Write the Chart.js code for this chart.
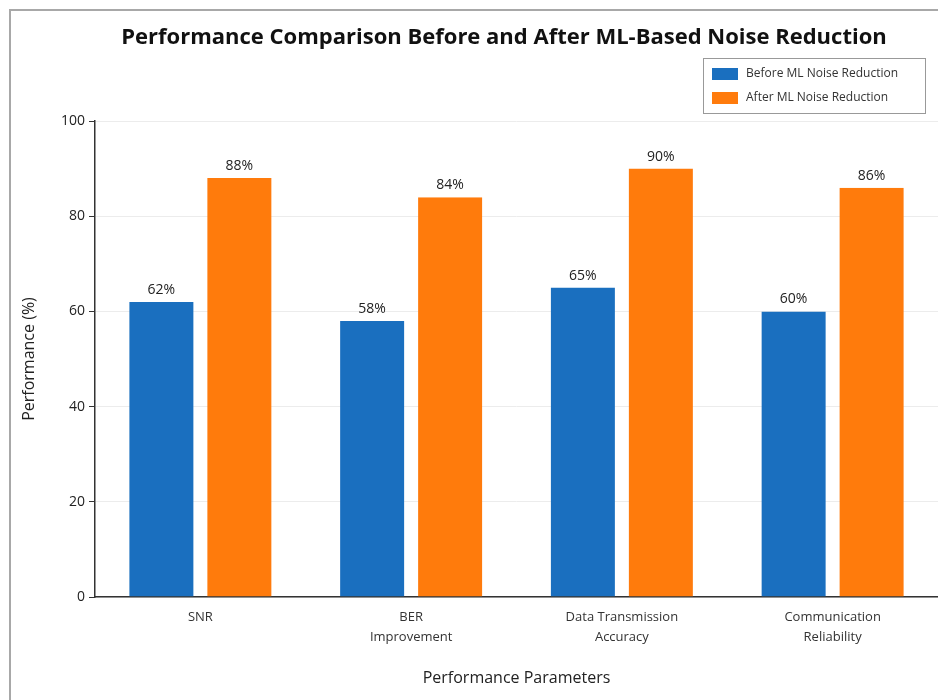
<!DOCTYPE html>
<html>
<head>
<meta charset="utf-8">
<script src="https://cdn.jsdelivr.net/npm/chart.js@4.4.1/dist/chart.umd.min.js"></script>
<style>
  html, body { margin: 0; padding: 0; background: #fff; }
  #wrap { position: relative; width: 938px; height: 700px; }
</style>
</head>
<body>
<div id="wrap"><canvas id="bar-chart" width="938" height="700"></canvas></div>
<script>
const categories = [
    ['SNR'],
    ['BER', 'Improvement'],
    ['Data Transmission', 'Accuracy'],
    ['Communication', 'Reliability']
];
const beforeValues = [62, 58, 65, 60];
const afterValues = [88, 84, 90, 86];
const yTicks = [0, 20, 40, 60, 80, 100];
const chartTitle = 'Performance Comparison Before and After ML-Based Noise Reduction';

const FONT = "'Open Sans', 'Noto Sans', sans-serif";

// frame line, title, value labels, legend box
const decorPlugin = {
    id: 'decor',
    beforeDraw(chart) {
        const ctx = chart.ctx;
        ctx.save();
        ctx.strokeStyle = '#a8a8a8';
        ctx.lineWidth = 2;
        ctx.strokeRect(10, 10, 1000, 1000);
        ctx.font = 'bold 22px ' + FONT;
        ctx.fillStyle = '#111';
        ctx.textAlign = 'center';
        ctx.textBaseline = 'middle';
        ctx.fillText(chartTitle, 504, 38);
        ctx.restore();
    },
    afterDatasetsDraw(chart) {
        const ctx = chart.ctx;
        ctx.save();
        ctx.font = '14px ' + FONT;
        ctx.fillStyle = '#222';
        ctx.textAlign = 'center';
        ctx.textBaseline = 'bottom';
        chart.data.datasets.forEach((ds, i) => {
            chart.getDatasetMeta(i).data.forEach((bar, j) => {
                ctx.fillText(ds.data[j] + '%', bar.x, bar.y - 5);
            });
        });
        ctx.restore();
    },
    afterDraw(chart) {
        const ctx = chart.ctx;
        const x = 703, y = 58, w = 222, h = 55;
        ctx.save();
        ctx.fillStyle = '#fff';
        ctx.fillRect(x, y, w, h);
        ctx.strokeStyle = '#999';
        ctx.lineWidth = 1;
        ctx.strokeRect(x + 0.5, y + 0.5, w, h);
        ctx.font = '12px ' + FONT;
        ctx.textBaseline = 'middle';
        ctx.textAlign = 'left';
        chart.data.datasets.forEach((ds, i) => {
            const ry = y + 16 + i * 24;
            ctx.fillStyle = ds.backgroundColor;
            ctx.fillRect(x + 9, ry - 6, 26, 12);
            ctx.fillStyle = '#333';
            ctx.fillText(ds.label, x + 43, ry);
        });
        ctx.restore();
    }
};

document.addEventListener('DOMContentLoaded', () => {
    const ctx = document.getElementById('bar-chart').getContext('2d');
    const gap = { left: 7, right: 7, top: 0, bottom: 0 };
    new Chart(ctx, {
        type: 'bar',
        data: {
            labels: categories,
            datasets: [{
                label: 'Before ML Noise Reduction',
                data: beforeValues,
                backgroundColor: '#1a6fbf',
                borderColor: 'rgba(0,0,0,0)',
                borderWidth: gap,
                borderSkipped: false
            }, {
                label: 'After ML Noise Reduction',
                data: afterValues,
                backgroundColor: '#ff7b0c',
                borderColor: 'rgba(0,0,0,0)',
                borderWidth: gap,
                borderSkipped: false
            }]
        },
        options: {
            responsive: false,
            animation: false,
            categoryPercentage: 0.74,
            barPercentage: 1,
            layout: { padding: { left: 20, right: 0, top: 121, bottom: 12 } },
            plugins: {
                legend: { display: false },
                tooltip: { enabled: false },
                title: { display: false }
            },
            scales: {
                x: {
                    grid: { display: false, drawTicks: false },
                    border: { color: '#333', width: 1.5 },
                    ticks: {
                        color: '#333',
                        font: { family: FONT, size: 13, lineHeight: 1.55 },
                        padding: 10,
                        maxRotation: 0
                    },
                    title: {
                        display: true,
                        text: 'Performance Parameters',
                        color: '#222',
                        font: { family: FONT, size: 16 },
                        padding: { top: 20, bottom: 0 }
                    },
                    afterFit(scale) { scale.height = 91; }
                },
                y: {
                    min: 0,
                    max: 100,
                    afterBuildTicks(scale) {
                        scale.ticks = yTicks.map(v => ({ value: v }));
                    },
                    grid: {
                        color: '#ececec',
                        tickColor: '#333',
                        tickLength: 6
                    },
                    border: { color: '#333', width: 1.5 },
                    ticks: {
                        color: '#222',
                        font: { family: FONT, size: 14 },
                        padding: 4
                    },
                    title: {
                        display: true,
                        text: 'Performance (%)',
                        color: '#222',
                        font: { family: FONT, size: 16 },
                        padding: { top: 0, bottom: 8 }
                    },
                    afterFit(scale) { scale.width = 75; }
                }
            }
        },
        plugins: [decorPlugin]
    });
});
</script>
</body>
</html>
